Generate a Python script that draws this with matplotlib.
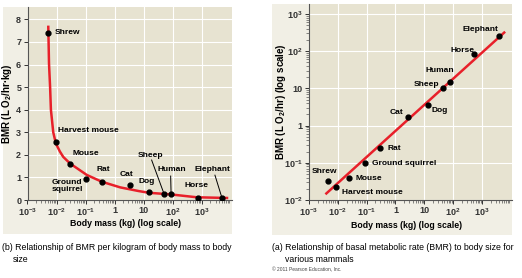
import matplotlib.pyplot as plt
from matplotlib.patches import Rectangle

plt.rcParams['font.family'] = ['Liberation Sans', 'DejaVu Sans']
plt.rcParams['font.weight'] = 'bold'
plt.rcParams['mathtext.fontset'] = 'custom'
plt.rcParams['mathtext.rm'] = 'Liberation Sans:bold'
plt.rcParams['mathtext.default'] = 'rm'

# animals and values
animals = ['Shrew', 'Harvest mouse', 'Mouse', 'Ground squirrel', 'Rat', 'Cat',
           'Dog', 'Sheep', 'Human', 'Horse', 'Elephant']
mass_b = [0.0052, 0.0095, 0.029, 0.10, 0.36, 3.3, 15, 50, 88, 750, 5000]
bmr_per_kg = [7.4, 2.55, 1.6, 0.94, 0.8, 0.68, 0.35, 0.28, 0.25, 0.1, 0.08]
mass_a = [0.0044, 0.0085, 0.025, 0.09, 0.3, 2.7, 13, 45, 75, 550, 3800]
bmr = [0.033, 0.022, 0.04, 0.097, 0.25, 1.7, 3.6, 10, 15, 83, 250]

# red curve traced in (b), red line ends in (a)
curve_mass = [0.0052, 0.0055, 0.0060, 0.0064, 0.0077, 0.0095, 0.013, 0.017, 0.029,
              0.11, 0.36, 1.55, 6.5, 15, 82, 680, 7400]
curve_bmr = [7.67, 6.05, 5.0, 4.0, 3.0, 2.5, 2.15, 1.91, 1.62,
             1.11, 0.81, 0.56, 0.40, 0.32, 0.25, 0.12, 0.09]
line_mass = [0.004, 5900]
line_bmr = [0.015, 316]

x_ticks = [1e-3, 1e-2, 1e-1, 1, 10, 1e2, 1e3]
x_ticklabels = ['10$^{-3}$', '10$^{-2}$', '10$^{-1}$', '1', '10', '10$^{2}$', '10$^{3}$']
y_ticks_a = [1e-2, 1e-1, 1, 10, 1e2, 1e3]
y_ticklabels_a = ['10$^{-2}$', '10$^{-1}$', '1', '10', '10$^{2}$', '10$^{3}$']

W, H = 522, 278
outer = '#f1efe5'
inner = '#e7e3d1'
red = '#e8202a'
lab_fs = 6.0


def box(x0, y0, x1, y1):
    # pixel box (top-left origin) -> figure fraction rect
    return [x0 / W, 1 - y1 / H, (x1 - x0) / W, (y1 - y0) / H]


fig = plt.figure(figsize=(5.22, 2.78), dpi=100)
for x0, y0, x1, y1 in [(3, 7, 232, 234), (272, 4, 512, 235)]:
    r = box(x0, y0, x1, y1)
    fig.patches.append(Rectangle((r[0], r[1]), r[2], r[3], transform=fig.transFigure,
                                 facecolor=outer, edgecolor='none', zorder=-5))

axb = fig.add_axes(box(27.5, 7, 232, 200))
axa = fig.add_axes(box(309, 4, 512, 200))

for ax in (axb, axa):
    ax.set_facecolor(inner)
    ax.set_xscale('log')
    ax.set_xlim(1e-3, 1.1e4)
    ax.set_xticks(x_ticks)
    ax.set_xticklabels(x_ticklabels)
    ax.grid(True, color='white', lw=0.8)
    ax.set_axisbelow(True)
    for s in ('top', 'right'):
        ax.spines[s].set_visible(False)
    for s in ('left', 'bottom'):
        ax.spines[s].set_color('#555555')
        ax.spines[s].set_linewidth(0.8)
    ax.tick_params(labelsize=6.5, length=3, width=0.7, colors='#333333', pad=1.5)
    ax.tick_params(which='minor', length=2.5, width=0.5, colors='#555555')
    ax.set_xlabel('Body mass (kg) (log scale)', fontsize=6.3, fontweight='bold')

axb.xaxis.set_label_coords(0.479, -0.1)
axa.xaxis.set_label_coords(0.479, -0.108)

# (b) per kg
axb.set_ylim(0, 8.55)
axb.set_yticks(range(9))
axb.plot(curve_mass, curve_bmr, color=red, lw=1.8, zorder=2)
axb.plot(mass_b, bmr_per_kg, 'o', color='black', ms=3.5, zorder=3)
axb.set_ylabel('BMR (L O$_2$/hr·kg)', fontsize=7, fontweight='bold')
axb.yaxis.set_label_coords(-0.068, 0.5)

labels_b = {
    'Shrew': (0.0088, 7.41), 'Harvest mouse': (0.0115, 3.1), 'Mouse': (0.036, 2.04),
    'Ground squirrel': (0.0070, 0.62), 'Rat': (0.24, 1.36), 'Cat': (1.53, 1.15),
    'Dog': (6.5, 0.81), 'Sheep': (6.4, 1.99), 'Human': (29, 1.33), 'Horse': (263, 0.63),
    'Elephant': (583, 1.33),
}
for name, (tx, ty) in labels_b.items():
    text = 'Ground\nsquirrel' if name == 'Ground squirrel' else name
    axb.text(tx, ty, text, fontsize=lab_fs, va='center', ha='left', linespacing=1.15,
             fontweight='bold')
pointers_b = {'Sheep': (18.8, 1.77), 'Human': (85, 1.06), 'Elephant': (2845, 1.1)}
for name, start in pointers_b.items():
    i = animals.index(name)
    axb.plot([start[0], mass_b[i]], [start[1], bmr_per_kg[i]], color='black', lw=0.7, zorder=3)

# (a) total BMR
axa.set_yscale('log')
axa.set_ylim(1e-2, 1.85e3)
axa.set_yticks(y_ticks_a)
axa.set_yticklabels(y_ticklabels_a)
axa.plot(line_mass, line_bmr, color=red, lw=1.8, zorder=2)
axa.plot(mass_a, bmr, 'o', color='black', ms=3.5, zorder=3)
axa.set_ylabel('BMR (L O$_2$/hr) (log scale)', fontsize=7, fontweight='bold')
axa.yaxis.set_label_coords(-0.105, 0.5)

labels_a = {
    'Elephant': (218, 372), 'Horse': (80, 107), 'Human': (11.2, 30), 'Sheep': (4.2, 13.1),
    'Cat': (0.61, 2.22), 'Dog': (17.2, 2.62), 'Rat': (0.52, 0.235),
    'Ground squirrel': (0.15, 0.093), 'Shrew': (0.00124, 0.0575), 'Mouse': (0.042, 0.0367),
    'Harvest mouse': (0.0136, 0.0161),
}
for name, (tx, ty) in labels_a.items():
    axa.text(tx, ty, name, fontsize=lab_fs, va='center', ha='left', fontweight='bold')

cap = dict(fontsize=6.3, va='center', ha='left', fontweight='normal')
fig.text(2 / W, 1 - 248 / H, '(b) Relationship of BMR per kilogram of body mass to body', **cap)
fig.text(13 / W, 1 - 260 / H, 'size', **cap)
fig.text(272 / W, 1 - 248 / H, '(a) Relationship of basal metabolic rate (BMR) to body size for', **cap)
fig.text(285 / W, 1 - 260 / H, 'various mammals', **cap)
fig.text(272 / W, 1 - 270 / H, '© 2011 Pearson Education, Inc.', fontsize=3.5,
         va='center', ha='left', fontweight='normal', color='#444444')

fig.savefig('out.png', dpi=100)
